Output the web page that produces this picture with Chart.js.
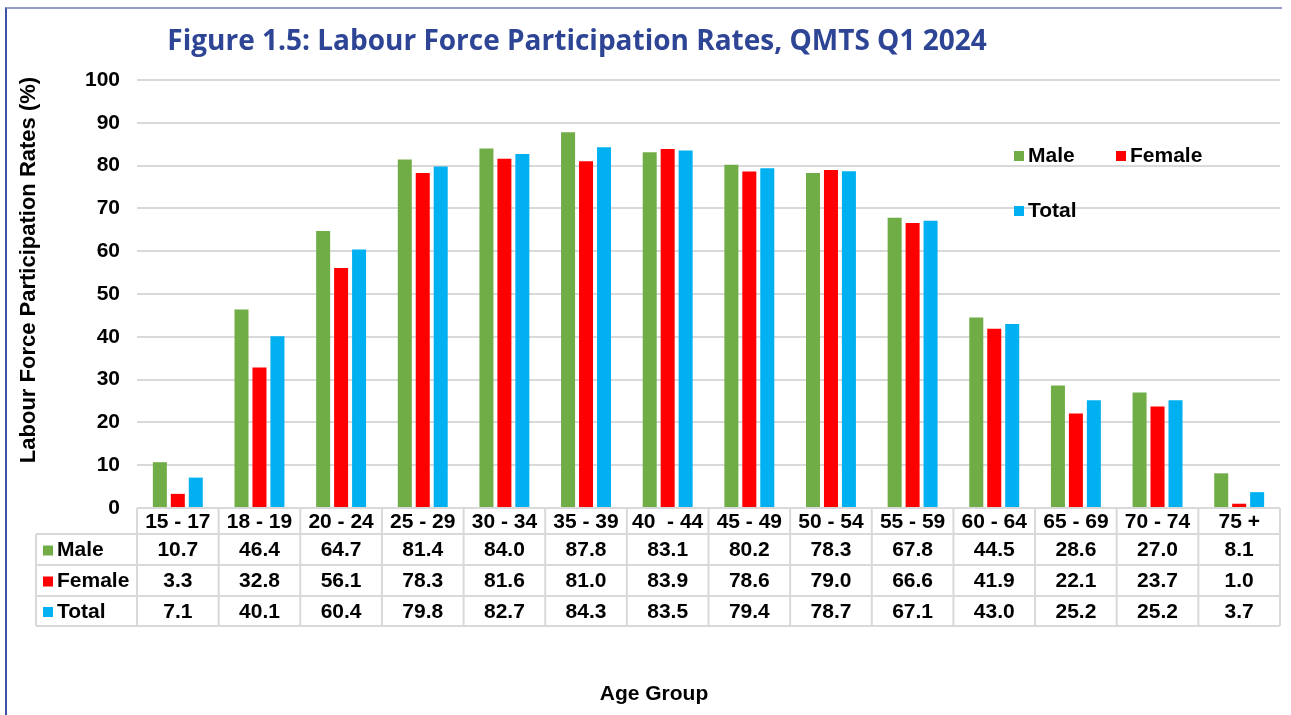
<!DOCTYPE html>
<html>
<head>
<meta charset="utf-8">
<script src="https://cdn.jsdelivr.net/npm/chart.js@4.4.1/dist/chart.umd.min.js"></script>
<style>
  html, body { margin: 0; padding: 0; background: #fff; }
  #wrap { position: relative; width: 1291px; height: 715px; }
  #frame { position: absolute; left: 5px; top: 7px; width: 1277px; height: 708px;
           border-top: 2px solid #8e9dc9; border-left: 2px solid #3f51a5; box-sizing: border-box; }
  canvas { position: absolute; left: 0; top: 0; }
</style>
</head>
<body>
<div id="wrap">
  <div id="frame"></div>
  <canvas id="chart" width="1291" height="715"></canvas>
</div>
<script>
const ageGroups = ["15 - 17", "18 - 19", "20 - 24", "25 - 29", "30 - 34", "35 - 39", "40  - 44",
  "45 - 49", "50 - 54", "55 - 59", "60 - 64", "65 - 69", "70 - 74", "75 +"];
const maleRates = [10.7, 46.4, 64.7, 81.4, 84.0, 87.8, 83.1, 80.2, 78.3, 67.8, 44.5, 28.6, 27.0, 8.1];
const femaleRates = [3.3, 32.8, 56.1, 78.3, 81.6, 81.0, 83.9, 78.6, 79.0, 66.6, 41.9, 22.1, 23.7, 1.0];
const totalRates = [7.1, 40.1, 60.4, 79.8, 82.7, 84.3, 83.5, 79.4, 78.7, 67.1, 43.0, 25.2, 25.2, 3.7];
const yTicks = [0, 10, 20, 30, 40, 50, 60, 70, 80, 90, 100];

const titleText = "Figure 1.5: Labour Force Participation Rates, QMTS Q1 2024";
const yTitleText = "Labour Force Participation Rates (%)";
const xTitleText = "Age Group";
const boldFont = '"Liberation Sans", Arial, sans-serif';
const gridColor = "#d9d9d9";

// titles are drawn off-centre like the original
const titlePlugin = {
  id: "figTitles",
  afterDraw(chart) {
    const ctx = chart.ctx;
    ctx.save();
    ctx.textAlign = "center";
    ctx.textBaseline = "middle";
    ctx.font = 'bold 28px "Open Sans", sans-serif';
    ctx.fillStyle = "#2e4596";
    ctx.fillText(titleText, 577, 42);

    ctx.fillStyle = "#000";
    ctx.font = "bold 21px " + boldFont;
    ctx.fillText(xTitleText, 654, 694);

    ctx.translate(29, 270);
    ctx.rotate(-Math.PI / 2);
    ctx.font = "bold 22px " + boldFont;
    ctx.fillText(yTitleText, 0, 0);
    ctx.restore();
  }
};

// legend sits inside the plot, top right
const legendPlugin = {
  id: "innerLegend",
  afterDraw(chart) {
    const ctx = chart.ctx;
    const spots = [[1014, 156], [1116, 156], [1014, 211]];
    ctx.save();
    ctx.font = "bold 21px " + boldFont;
    ctx.textBaseline = "middle";
    chart.data.datasets.forEach((ds, i) => {
      const [lx, ly] = spots[i];
      ctx.fillStyle = ds.backgroundColor;
      ctx.fillRect(lx, ly - 5, 10, 10);
      ctx.fillStyle = "#000";
      ctx.fillText(ds.label, lx + 14, ly);
    });
    ctx.restore();
  }
};

// data table under the x axis
const tablePlugin = {
  id: "dataTable",
  afterDraw(chart) {
    const ctx = chart.ctx;
    const area = chart.chartArea;
    const xs = chart.scales.x;
    const n = ageGroups.length;
    const colW = (area.right - area.left) / n;
    const rowEdges = [area.bottom, 534, 565, 596, 626];
    const labelLeft = 36;

    ctx.save();
    ctx.strokeStyle = gridColor;
    ctx.lineWidth = 2;
    ctx.beginPath();
    ctx.moveTo(area.left, rowEdges[0]); ctx.lineTo(area.right, rowEdges[0]);
    for (let r = 1; r < rowEdges.length; r++) {
      ctx.moveTo(labelLeft, rowEdges[r]); ctx.lineTo(area.right, rowEdges[r]);
    }
    for (let c = 0; c <= n; c++) {
      const vx = area.left + c * colW;
      ctx.moveTo(vx, rowEdges[0]); ctx.lineTo(vx, rowEdges[4]);
    }
    ctx.moveTo(labelLeft, rowEdges[1]); ctx.lineTo(labelLeft, rowEdges[4]);
    ctx.stroke();

    ctx.font = "bold 21px " + boldFont;
    ctx.fillStyle = "#000";
    ctx.textAlign = "center";
    ctx.textBaseline = "middle";
    ageGroups.forEach((g, i) => {
      ctx.fillText(g, xs.getPixelForValue(i), (rowEdges[0] + rowEdges[1]) / 2 + 1);
    });
    chart.data.datasets.forEach((ds, r) => {
      const cy = (rowEdges[r + 1] + rowEdges[r + 2]) / 2 + 1;
      ctx.textAlign = "center";
      ctx.fillStyle = "#000";
      ds.data.forEach((v, i) => {
        ctx.fillText(v.toFixed(1), xs.getPixelForValue(i), cy);
      });
      ctx.fillStyle = ds.backgroundColor;
      ctx.fillRect(43, cy - 5, 10, 10);
      ctx.fillStyle = "#000";
      ctx.textAlign = "left";
      ctx.fillText(ds.label, 57, cy);
    });
    ctx.restore();
  }
};

new Chart(document.getElementById("chart"), {
  type: "bar",
  data: {
    labels: ageGroups,
    datasets: [
      { label: "Male", data: maleRates, backgroundColor: "#70ad47" },
      { label: "Female", data: femaleRates, backgroundColor: "#ff0000" },
      { label: "Total", data: totalRates, backgroundColor: "#00b0f0" }
    ]
  },
  options: {
    responsive: false,
    animation: false,
    categoryPercentage: 0.66,
    barPercentage: 0.78,
    layout: { padding: { top: 80, left: 10, right: 11, bottom: 11 } },
    plugins: {
      legend: { display: false },
      title: { display: false },
      tooltip: { enabled: false }
    },
    scales: {
      x: {
        grid: { display: false, drawTicks: false },
        border: { display: false },
        ticks: { display: false },
        afterFit: (s) => { s.height = 196; }
      },
      y: {
        min: 0,
        max: 100,
        afterBuildTicks: (s) => { s.ticks = yTicks.map(v => ({ value: v })); },
        grid: { color: gridColor, lineWidth: 2, drawTicks: false },
        border: { display: false },
        ticks: {
          color: "#000",
          padding: 17,
          font: { family: boldFont, size: 21, weight: "bold" }
        },
        afterFit: (s) => { s.width = 127; }
      }
    }
  },
  plugins: [titlePlugin, legendPlugin, tablePlugin]
});
</script>
</body>
</html>
